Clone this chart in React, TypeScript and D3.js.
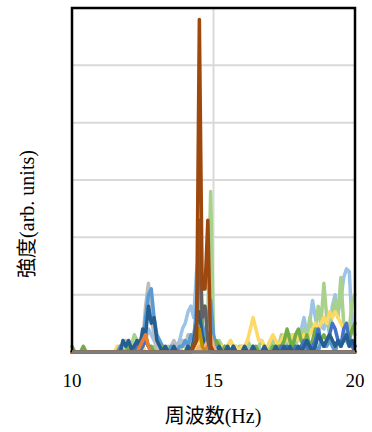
import * as d3 from 'd3';

// frequency axis, 0.1 Hz sampling from 10 to 20 Hz
const freqs = d3.range(0, 101).map(i => 10 + i * 0.1);

// intensity (arb. units), one value per frequency sample
const lightBlue = [
  0,0,0,0,0,0,0,0,0,0,
  0,0,0,0,0,0,0,0,0,1,
  1,0,1,0,2,3,2,4,3,2,
  1,0,0,0,0,1,0,1,2,4,
  5,7,8,6,14,18,4,2,1,1,
  0,1,0,0,1,0,0,0,1,0,
  0,0,1,0,0,0,1,0,0,0,
  1,0,1,0,1,2,1,2,1,3,
  2,4,6,3,5,9,6,3,5,4,
  6,3,8,10,7,9,13,14.5,14,4,3,
];
const lightGreen = [
  0,0,0,0,0,0,0,0,0,0,
  0,0,0,0,0,0,0,1,0,1,
  2,1,3,2,1,3,2,1,0,1,
  0,0,0,0,1,0,0,0,0,1,
  1,0,2,1,3,10,4,3,6,28,
  3,1,2,1,0,1,2,1,0,1,
  1,0,2,1,1,0,1,2,1,0,
  1,2,0,1,3,2,1,3,2,1,
  3,2,4,2,6,4,3,8,5,12,
  6,4,7,9,6,13,5,2,4,9,10,
];
const yellow = [
  0,0,0,0,0,0,0,0,0,0,
  0,0,0,0,0,0,1,1,0,0,
  1,0,0,0,0,1,0,0,0,0,
  0,0,0,0,0,0,0,0,0,0,
  0,0,1,0,1,2,1,1,2,1,
  0,0,1,1,0,1,2,1,1,0,
  1,1,2,4,6,4,2,2,1,1,
  2,3,2,1,2,3,2,2,3,3,
  2,2,3,2,3,4,5,4,5,6,
  5,7,6,7,6,5,4,5,3,4,5,
];
const grey = [
  0,0,0,0,0,0,0,0,0,0,
  0,0,0,0,0,0,0,0,1,2,
  0,1,0,1,1,2,8,12,6,3,
  1,0,1,0,0,1,2,1,0,2,
  1,3,2,3,6,10,3,1,2,1,
  0,0,1,0,0,0,0,0,0,0,
  0,0,0,0,0,0,0,0,0,0,
  0,0,0,0,0,0,0,0,0,0,
  0,0,0,0,0,0,0,0,0,0,
  0,0,0,0,0,0,0,0,0,0,0,
];
const midBlue = [
  0,0,0,0,0,0,0,0,0,0,
  0,0,0,0,0,0,0,1,0,0,
  0,1,0,1,2,1,6,10,11,6,
  3,2,1,0,0,1,0,0,1,1,
  2,1,3,2,8,15,5,2,6,9,
  3,1,0,0,0,0,0,0,0,0,
  0,0,0,0,0,0,0,0,0,0,
  0,0,0,0,0,0,0,0,0,1,
  0,1,0,1,0,2,1,0,2,1,
  1,2,1,0,2,1,3,2,1,2,1,
];
const green = [
  1,0,0,0,1,0,0,0,0,0,
  0,0,0,0,0,0,0,0,0,0,
  1,0,1,2,1,2,3,1,1,0,
  0,0,1,0,0,0,0,0,0,0,
  0,0,0,1,4,21,3,1,1,1,
  1,2,1,0,1,0,0,1,0,0,
  0,0,0,0,0,1,0,0,0,0,
  0,1,0,1,1,2,4,2,1,3,
  4,2,1,3,1,2,4,3,2,3,
  2,3,2,1,2,1,2,3,2,4,5,
];
const darkBlue = [
  0,0,0,0,0,0,0,0,0,0,
  0,0,0,0,0,0,0,0,2,1,
  2,0.5,1,2,1,4,3,8,5,6,
  2,1,0,1,0,0,1,0,0,0,
  0,1,0,2,5,7,3,1,2,1,
  0,0,1,0,0,1,0,1,0,0,
  0,1,0,0,1,0,0,0,1,0,
  0,0,1,0,0,1,0,1,0,0,
  1,0,1,2,1,0,1,3,2,1,
  2,3,2,1,2,1,2,3,1,2,1,
];
const blue = [
  0,0,0,0,0,0,0,0,0,0,
  0,0,0,0,0,0,0,0,0,0,
  0,0,0,1,0,1,2,1,0,0,
  0,0,0,0,0,0,0,0,0,0,
  0,0,0,1,2,4,2,1,1,0,
  0,0,0,0,0,0,0,0,0,0,
  0,0,0,0,0,0,0,0,0,0,
  0,0,0,0,1,0,1,0,0,1,
  0,1,2,1,0,1,2,4,2,1,
  2,3,5,4,2,1,4,5,2,1,0,
];
const lightOrange = [
  0,0,0,0,0,0,0,0,0,0,
  0,0,0,0,0,0,0,0,0,0,
  0,0,0,0,0,0,0,0,0,0,
  0,0,0,0,0,0,0,0,0,0,
  0,0,0,0,0,1,0,1,2,3,
  1,0,0,0,0,0,0,0,0,0,
  0,0,0,0,0,0,0,0,0,0,
  0,0,0,0,0,0,0,0,0,0,
  0,0,0,0,0,0,0,0,0,0,
  0,0,0,0,0,0,0,0,0,0,0,
];
const orange = [
  0,0,0,0,0,0,0,0,0,0,
  0,0,0,0,0,0,0,0,0,0,
  0,0,0,0,1,2,3,1,0,0,
  0,0,0,0,0,0,0,0,0,0,
  0,0,0,0,0,0,0,0,1,1,
  0,0,0,0,0,0,0,0,0,0,
  0,0,0,0,0,0,0,0,0,0,
  0,0,0,0,0,0,0,0,0,0,
  0,0,0,0,0,0,0,0,0,0,
  0,0,0,0,0,0,0,0,0,0,0,
];
const gold = [
  0,0,0,0,0,0,0,0,0,0,
  0,0,0,0,0,0,0,0,0,0,
  0,0,0,0,0,0,0,0,0,0,
  0,0,0,0,0,0,0,0,0,0,
  0,0,0,1,2,4,1,0,0,0,
  0,0,0,0,0,0,0,0,0,0,
  0,0,0,0,0,0,0,0,0,0,
  0,0,0,0,0,0,0,0,0,0,
  0,0,0,0,0,0,0,0,0,0,
  0,0,0,0,0,0,0,0,0,0,0,
];
const darkGrey = [
  0,0,0,0,0,0,0,0,0,0,
  0,0,0,0,0,0,0,0,0,0,
  0,0,0,0,0,0,0,0,0,0,
  0,0,0,0,0,0,0,0,0,0,
  0,0,0,1,4,23,6,8,2,0,
  0,0,0,0,0,0,0,0,0,0,
  0,0,0,0,0,0,0,0,0,0,
  0,0,0,0,0,0,0,0,0,0,
  0,0,0,0,0,0,0,0,0,0,
  0,0,0,0,0,0,0,0,0,0,0,
];
const brown = [
  0,0,0,0,0,0,0,0,0,0,
  0,0,0,0,0,0,0,0,0,0,
  0,0,0,0,0,0,0,0,0,0,
  0,0,0,0,0,0,0,0,0,0,
  0,0,0,1,2,58,11,11,23,1,
  0,0,0,0,0,0,0,0,0,0,
  0,0,0,0,0,0,0,0,0,0,
  0,0,0,0,0,0,0,0,0,0,
  0,0,0,0,0,0,0,0,0,0,
  0,0,0,0,0,0,0,0,0,0,0,
];

// drawing order: first is at the back
const series = [
  { values: lightBlue, color: '#9DC3E6' },
  { values: lightGreen, color: '#A9D18E' },
  { values: yellow, color: '#FFD966' },
  { values: grey, color: '#BDBDBD' },
  { values: midBlue, color: '#5B9BD5' },
  { values: green, color: '#70AD47' },
  { values: blue, color: '#4472C4' },
  { values: darkBlue, color: '#255E91' },
  { values: lightOrange, color: '#F4B183' },
  { values: orange, color: '#ED7D31' },
  { values: gold, color: '#BF9000' },
  { values: darkGrey, color: '#636363' },
  { values: brown, color: '#9E480E' },
];

const xTicks = [10, 15, 20];
const yGrid = [10, 20, 30, 40, 50];

const W = 372;
const H = 432;
const m = { left: 72, top: 8, right: 17, bottom: 80 };
const FONT = "'Liberation Serif', 'Noto Sans CJK JP', serif";

export default function App() {
  const x = d3.scaleLinear().domain([10, 20]).range([m.left, W - m.right]);
  const y = d3.scaleLinear().domain([0, 60]).range([H - m.bottom, m.top]);
  const line = d3.line<number>()
    .x((_, i) => x(freqs[i]))
    .y(d => y(d));

  const x0 = x(10), x1 = x(20), y0 = y(0), yTop = y(60);

  return (
    <svg width={W} height={H} style={{ position: 'absolute', left: 0, top: 0, background: '#fff' }}>
      {/* gridlines */}
      {yGrid.map(v => (
        <line key={v} x1={x0} x2={x1} y1={y(v)} y2={y(v)} stroke="#D9D9D9" strokeWidth={2} />
      ))}
      <line x1={x(15)} x2={x(15)} y1={yTop} y2={y0} stroke="#D9D9D9" strokeWidth={2} />

      {/* series */}
      <g fill="none" strokeWidth={3.5} strokeLinejoin="round" strokeLinecap="round">
        {series.map((s, k) => (
          <path key={k} d={line(s.values) ?? ''} stroke={s.color} />
        ))}
      </g>

      {/* frame */}
      <path d={`M${x0},${y0}V${yTop}H${x1}V${y0}`} fill="none" stroke="#000" strokeWidth={2.5} />
      <line x1={x0} x2={x1} y1={y0} y2={y0} stroke="#7F7F7F" strokeWidth={3.5} />

      {/* x tick labels */}
      {xTicks.map(t => (
        <text key={t} x={x(t)} y={387} textAnchor="middle" fontFamily={FONT} fontSize={19} fill="#000">
          {t}
        </text>
      ))}

      <text x={213} y={423} textAnchor="middle" fontFamily={FONT} fontSize={20} fill="#000">
        周波数(Hz)
      </text>
      <text
        transform="translate(34,214) rotate(-90)"
        textAnchor="middle"
        fontFamily={FONT}
        fontSize={20}
        fill="#000"
      >
        強度(arb. units)
      </text>
    </svg>
  );
}
